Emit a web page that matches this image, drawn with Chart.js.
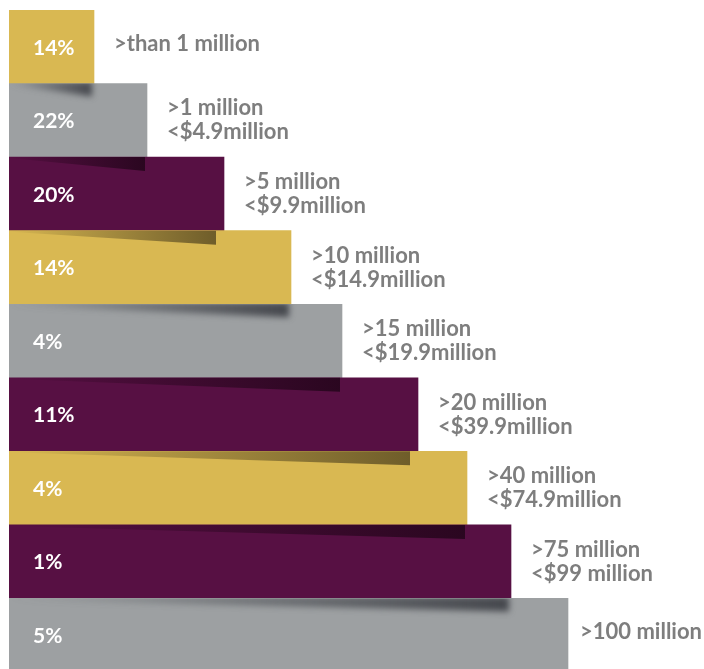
<!DOCTYPE html>
<html>
<head>
<meta charset="utf-8">
<script src="https://cdn.jsdelivr.net/npm/chart.js@4.4.1/dist/chart.umd.min.js"></script>
<style>
  html, body { margin: 0; padding: 0; background: #fff; overflow: hidden; height: 669px; }
  #stepChart { display: block; }
</style>
</head>
<body>
<canvas id="stepChart" width="704" height="672"></canvas>
<script>
// ช่วงมูลค่า (label ด้านขวาของแต่ละแท่ง)
const sizeBands = [
  ['>than 1 million'],
  ['>1 million', '<$4.9million'],
  ['>5 million', '<$9.9million'],
  ['>10 million', '<$14.9million'],
  ['>15 million', '<$19.9million'],
  ['>20 million', '<$39.9million'],
  ['>40 million', '<$74.9million'],
  ['>75 million', '<$99 million'],
  ['>100 million']
];
// ตัวเลขเปอร์เซ็นต์ในแท่ง
const shares = [14, 22, 20, 14, 4, 11, 4, 1, 5];
// ความยาวแท่งแบบขั้นบันได (อ่านจากภาพ)
const barReach = [85, 138, 215, 282, 333, 409, 458, 502, 559];

const GOLD = '#d9b852';
const GREY = '#9da0a2';
const PLUM = '#571043';
const barColors = [GOLD, GREY, PLUM, GOLD, GREY, PLUM, GOLD, PLUM, GREY];

/* ===== เงาใต้แท่งด้านบน ===== */
const stepShadow = {
  id: 'stepShadow',
  afterDatasetsDraw(chart) {
    const ctx = chart.ctx;
    const bars = chart.getDatasetMeta(0).data;
    for (let i = 1; i < bars.length; i++) {
      const prev = bars[i - 1];
      const cur = bars[i];
      const top = cur.y - cur.height / 2;
      const left = cur.base;
      const col = barColors[i];
      let end = prev.x - 2, thick = 14, dark = 'rgba(40,6,30,0.95)', blur = 0;
      if (col === GOLD) { end = prev.x - 8; thick = 14; dark = 'rgba(105,88,40,0.95)'; }
      if (col === GREY) { end = prev.x - 2; thick = 13; dark = 'rgba(60,62,68,0.9)'; blur = 3; }

      ctx.save();
      ctx.beginPath();
      ctx.rect(left, top, cur.x - left, cur.height);
      ctx.clip();
      if (blur) ctx.filter = 'blur(' + blur + 'px)';
      const g = ctx.createLinearGradient(left, 0, end, 0);
      g.addColorStop(0, dark.replace(/[\d.]+\)$/, '0)'));
      g.addColorStop(0.35, dark.replace(/[\d.]+\)$/, '0.35)'));
      g.addColorStop(1, dark);
      ctx.fillStyle = g;
      ctx.beginPath();
      ctx.moveTo(left, top - 2);
      ctx.lineTo(end, top - 2);
      ctx.lineTo(end, top + thick);
      ctx.lineTo(left, top + 1);
      ctx.closePath();
      ctx.fill();
      ctx.restore();
    }
  }
};

/* ===== ข้อความในแท่งและด้านขวา ===== */
const stepLabels = {
  id: 'stepLabels',
  afterDraw(chart) {
    const ctx = chart.ctx;
    const bars = chart.getDatasetMeta(0).data;
    ctx.save();
    ctx.textBaseline = 'middle';
    ctx.textAlign = 'left';
    bars.forEach((bar, i) => {
      ctx.fillStyle = '#ffffff';
      ctx.font = 'bold 21px Lato';
      ctx.fillText(shares[i] + '%', bar.base + 24, bar.y + 1);

      ctx.fillStyle = '#7e7e7e';
      ctx.font = 'bold 22px Lato';
      const lines = sizeBands[i];
      const lh = 24;
      const y0 = lines.length > 1 ? bar.y - (lines.length - 1) * lh / 2 : bar.y - 3;
      // ให้ข้อความไม่ล้นขอบขวา
      const widest = Math.max(...lines.map(t => ctx.measureText(t).width));
      const tx = Math.min(bar.x + 20, chart.width - widest - 2);
      lines.forEach((t, k) => {
        ctx.fillText(t, tx, y0 + k * lh);
      });
    });
    ctx.restore();
  }
};

new Chart(document.getElementById('stepChart'), {
  type: 'bar',
  data: {
    labels: sizeBands.map(l => l.join(' ')),
    datasets: [{
      data: barReach,
      backgroundColor: barColors,
      borderWidth: 0,
      barPercentage: 1,
      categoryPercentage: 1
    }]
  },
  options: {
    indexAxis: 'y',
    responsive: false,
    animation: false,
    devicePixelRatio: 1,
    layout: { padding: { left: 9, top: 10, right: 0, bottom: 0 } },
    plugins: { legend: { display: false }, tooltip: { enabled: false } },
    scales: {
      x: { display: false, min: 0, max: 695 },
      y: { display: false }
    }
  },
  plugins: [stepShadow, stepLabels]
});
</script>
</body>
</html>
